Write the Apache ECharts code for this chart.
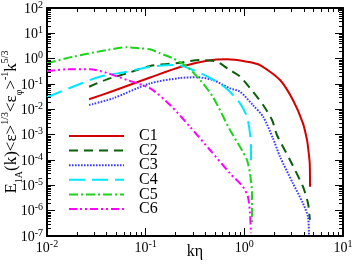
<!DOCTYPE html>
<html>
<head>
<meta charset="utf-8">
<script src="https://cdn.jsdelivr.net/npm/echarts@6/dist/echarts.min.js"></script>
<style>
html,body{margin:0;padding:0;background:#fff;}
#chart{width:354px;height:266px;}
</style>
</head>
<body>
<div id="chart"></div>
<script>
// ---- data (kη, normalized spectrum) ----
const seriesNames = ['C1', 'C2', 'C3', 'C4', 'C5', 'C6'];
const c1 = [[0.0267,0.0249],[0.0467,0.0528],[0.111,0.180],[0.223,0.469],[0.419,0.830],[0.667,0.944],[1.064,0.759],[1.44,0.562],[2.30,0.144],[3.11,0.0233],[3.93,2.8e-3],[4.32,6.2e-4],[4.42,3.3e-4],[4.60,7.4e-5],[4.63,8.8e-6]];
const c2 = [[0.0267,0.0782],[0.0406,0.153],[0.0647,0.264],[0.111,0.513],[0.223,0.692],[0.356,0.885],[0.528,0.759],[0.70,0.37],[0.90,0.20],[1.22,0.0497],[1.55,0.0148],[1.91,3.8e-3],[2.14,9.7e-4],[2.90,1.0e-4],[3.93,8.8e-6],[4.42,1.95e-6],[4.62,4.3e-7]];
const c3 = [[0.0267,0.0148],[0.0467,0.0272],[0.111,0.106],[0.223,0.172],[0.331,0.184],[0.481,0.144],[0.716,0.0676],[0.904,0.0497],[1.22,0.0148],[1.55,5.1e-3],[1.95,7.2e-4],[2.30,1.35e-4],[3.11,1.2e-5],[3.93,1.95e-6],[4.42,5.8e-7],[4.52,1.1e-7]];
const c4 = [[0.01,0.0299],[0.0183,0.0782],[0.0344,0.194],[0.0647,0.305],[0.111,0.482],[0.208,0.562],[0.302,0.356],[0.449,0.174],[0.667,0.0634],[0.904,0.0173],[1.064,5.1e-3],[1.14,1.13e-3],[1.168,3.3e-4],[1.168,5.8e-5]];
const c5 = [[0.01,0.656],[0.0183,1.19],[0.0406,2.20],[0.0647,2.81],[0.0877,2.56],[0.111,2.34],[0.14,1.63],[0.189,1.03],[0.262,0.482],[0.356,0.144],[0.481,0.0306],[0.716,1.53e-3],[0.904,3.3e-4],[1.064,1.0e-4],[1.14,3.0e-5],[1.197,5.0e-6],[1.197,3.6e-7]];
const c6 = [[0.01,0.326],[0.016,0.380],[0.0273,0.380],[0.0406,0.272],[0.0647,0.144],[0.111,0.0676],[0.177,0.0148],[0.281,2.06e-3],[0.449,2.48e-4],[0.716,2.98e-5],[0.968,8.8e-6],[1.089,3.5e-6],[1.14,8.1e-7],[1.168,1.3e-7]];
const xRange = [0.01, 10];
const yRange = [1e-7, 100];

const FONT = 'Liberation Serif';
const colors = ['#d40000', '#0b5e0b', '#3a3aff', '#00e8ff', '#1ed21e', '#ff00ff'];
const dashes = ['solid', [9, 6], [1.6, 1.4], [16, 7], [9, 3, 2, 3], [8, 3, 2, 3, 2, 3]];
const allData = [c1, c2, c3, c4, c5, c6];

function expLabel(v) {
  const e = Math.round(Math.log10(v));
  return '{b|10}{s|' + e + '}';
}
const labelRich = {
  b: {fontFamily: FONT, fontSize: 14, color: '#000', lineHeight: 16, verticalAlign: 'bottom'},
  s: {fontFamily: FONT, fontSize: 10, color: '#000', lineHeight: 10, verticalAlign: 'top'}
};

// minor tick values (2..9 per decade)
function minors(lo, hi) {
  const out = [];
  for (let n = Math.round(Math.log10(lo)); n < Math.round(Math.log10(hi)); n++) {
    for (let m = 2; m <= 9; m++) out.push(m * Math.pow(10, n));
  }
  return out;
}
const xMinor = minors(xRange[0], xRange[1]);
const yMinor = minors(yRange[0], yRange[1]);

const chart = echarts.init(document.getElementById('chart'), null, {renderer: 'canvas'});

const lineSeries = allData.map((d, i) => ({
  name: seriesNames[i],
  type: 'line',
  data: d,
  symbol: 'none',
  showSymbol: false,
  smooth: 0.25,
  xAxisIndex: 0,
  yAxisIndex: 0,
  lineStyle: {color: colors[i], width: 2, type: dashes[i]},
  itemStyle: {color: colors[i]},
  z: 3
}));

const tickSeries = {
  type: 'custom',
  silent: true,
  xAxisIndex: 0,
  yAxisIndex: 0,
  data: [[1, 1]],
  z: 5,
  renderItem: function (params, api) {
    const cs = params.coordSys;
    const L = cs.x, R = cs.x + cs.width, T = cs.y, B = cs.y + cs.height;
    const ch = [];
    const st = {stroke: '#000', lineWidth: 1};
    xMinor.forEach(v => {
      const px = Math.round(api.coord([v, 1])[0]) + 0.5;
      ch.push({type: 'line', shape: {x1: px, y1: B, x2: px, y2: B - 4}, style: st});
      ch.push({type: 'line', shape: {x1: px, y1: T, x2: px, y2: T + 4}, style: st});
    });
    yMinor.forEach(v => {
      const py = Math.round(api.coord([1, v])[1]) + 0.5;
      ch.push({type: 'line', shape: {x1: L, y1: py, x2: L + 4, y2: py}, style: st});
      ch.push({type: 'line', shape: {x1: R, y1: py, x2: R - 4, y2: py}, style: st});
    });
    return {type: 'group', children: ch};
  }
};

const axisCommon = {
  type: 'log',
  logBase: 10,
  axisLine: {show: true, onZero: false, lineStyle: {color: '#000', width: 2}},
  axisTick: {show: true, inside: true, length: 8, lineStyle: {color: '#000', width: 1}},
  splitLine: {show: false},
  minorTick: {show: false},
  minorSplitLine: {show: false}
};

const option = {
  animation: false,
  backgroundColor: '#fff',
  grid: {left: 47, right: 11, top: 8, bottom: 30, containLabel: false, outerBoundsMode: 'none'},
  legend: {
    orient: 'vertical',
    left: 68,
    top: 128,
    padding: 0,
    itemWidth: 55,
    itemHeight: 14,
    itemGap: -1.4,
    data: seriesNames,
    itemStyle: {opacity: 0, borderWidth: 0},
    lineStyle: {width: 2},
    textStyle: {fontFamily: FONT, fontSize: 16, color: '#000', lineHeight: 14, padding: [0, 0, 0, 10]},
    selectedMode: false
  },
  xAxis: [
    Object.assign({}, axisCommon, {
      position: 'bottom', min: xRange[0], max: xRange[1],
      name: 'kη', nameLocation: 'middle', nameGap: 8, nameMoveOverlap: false,
      nameTextStyle: {fontFamily: FONT, fontSize: 16, color: '#000', verticalAlign: 'top'},
      axisLabel: {show: true, margin: 3, formatter: expLabel, rich: labelRich}
    }),
    Object.assign({}, axisCommon, {
      position: 'top', min: xRange[0], max: xRange[1],
      axisLabel: {show: false}
    })
  ],
  yAxis: [
    Object.assign({}, axisCommon, {
      position: 'left', min: yRange[0], max: yRange[1],
      name: '{m|E}{sub|1A}{m|(k)<ε>}{sup|1/3}{m|<ε}{sub|φ}{m|>}{sup|-1}{m|k}{sup|5/3}',
      nameLocation: 'middle', nameRotate: 90, nameGap: 23, nameMoveOverlap: false,
      nameTextStyle: {
        fontFamily: FONT, fontSize: 16, color: '#000',
        rich: {
          m: {fontFamily: FONT, fontSize: 17, color: '#000', lineHeight: 24, verticalAlign: 'middle'},
          sub: {fontFamily: FONT, fontSize: 10, color: '#000', lineHeight: 10, verticalAlign: 'bottom'},
          sup: {fontFamily: FONT, fontSize: 10, color: '#000', lineHeight: 10, verticalAlign: 'top'}
        }
      },
      axisLabel: {show: true, margin: 4, formatter: expLabel, rich: labelRich}
    }),
    Object.assign({}, axisCommon, {
      position: 'right', min: yRange[0], max: yRange[1],
      axisLabel: {show: false}
    })
  ],
  series: lineSeries.concat([tickSeries])
};

chart.setOption(option);
</script>
</body>
</html>
